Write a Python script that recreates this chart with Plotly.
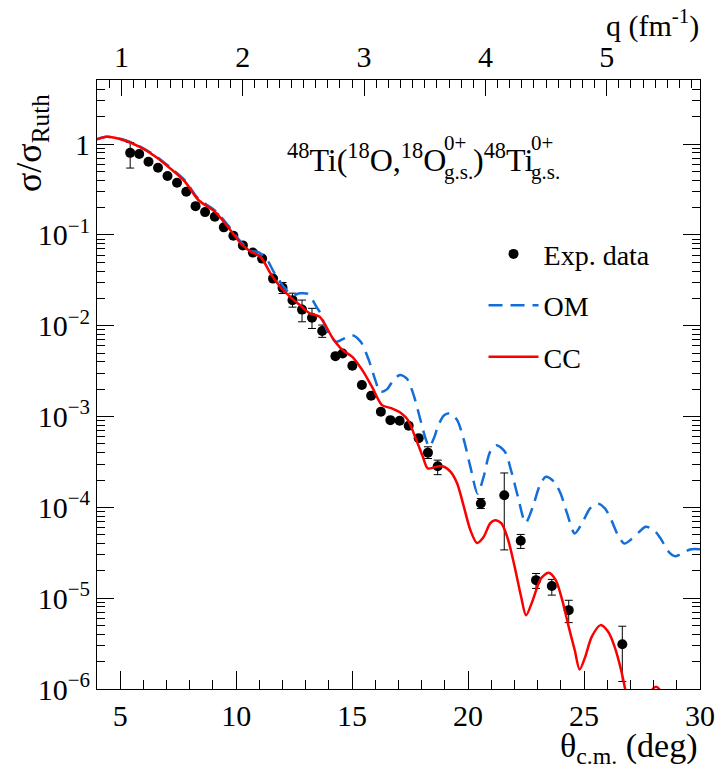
import plotly.graph_objects as go

# ---------------- data ----------------
theta_exp = [5.43, 5.82, 6.22, 6.63, 7.04, 7.45, 7.85, 8.25, 8.66, 9.08, 9.47, 9.88, 10.29, 10.72,
             11.12, 11.59, 12.00, 12.43, 12.84, 13.27, 13.71, 14.28, 14.59, 15.01, 15.42, 15.82,
             16.24, 16.65, 17.05, 17.44, 17.87, 18.27, 18.69, 20.55, 21.56, 22.27, 22.93, 23.61,
             24.34, 26.65]
sigma_exp = [0.80, 0.776, 0.638, 0.548, 0.444, 0.375, 0.298, 0.207, 0.178, 0.158, 0.121, 0.0977,
             0.0766, 0.0638, 0.0548, 0.0330, 0.0261, 0.0191, 0.01504, 0.01222, 0.00873, 0.00462,
             0.00495, 0.00362, 0.00222, 0.00169, 0.00113, 0.000912, 0.000897, 0.000790, 0.000578,
             0.000400, 0.000284, 1.10e-4, 1.36e-4, 4.28e-5, 1.58e-5, 1.36e-5, 7.38e-6, 3.11e-6]
err_up = [0.24, 0.023, 0.019, 0.016, 0.013, 0.011, 0.009, 0.006, 0.005, 0.005, 0.004, 0.003,
          0.0023, 0.0019, 0.0016, 0.001, 0.0038, 0.0037, 0.0041, 0.0033, 0.00143, 0.00014,
          0.00015, 0.00011, 0.00007, 0.00005, 0.000035, 0.000028, 0.000027, 0.000024, 0.000018,
          0.000064, 0.000047, 1.5e-5, 1.03e-4, 7.5e-6, 2.9e-6, 2.5e-6, 2.1e-6, 1.8e-6]
err_dn = [0.256, 0.023, 0.019, 0.016, 0.013, 0.011, 0.009, 0.006, 0.005, 0.005, 0.004, 0.003,
          0.0023, 0.0019, 0.0016, 0.001, 0.0035, 0.0031, 0.0040, 0.0029, 0.00129, 0.00014,
          0.00015, 0.00011, 0.00007, 0.00005, 0.000035, 0.000028, 0.000027, 0.000024, 0.000018,
          0.000055, 0.000055, 1.3e-5, 1.02e-4, 7.5e-6, 3.0e-6, 2.8e-6, 2.0e-6, 1.9e-6]

theta_cc = [4.0, 4.41, 5.12, 5.82, 6.53, 7.24, 7.80, 8.37, 9.08, 9.64, 10.20, 10.63, 11.05, 11.48,
            11.90, 12.33, 12.75, 13.17, 13.60, 14.17, 14.59, 15.01, 15.44, 15.86, 16.29, 16.71,
            17.13, 17.41, 17.77, 18.05, 18.26, 18.62, 18.90, 19.25, 19.53, 19.82, 20.10, 20.38,
            20.67, 20.95, 21.16, 21.44, 21.73, 22.01, 22.29, 22.50, 22.79, 23.14, 23.47, 23.78,
            24.06, 24.34, 24.60, 24.81, 25.05, 25.33, 25.71, 26.04, 26.32, 26.60, 26.77, 27.0,
            27.3, 27.6, 27.9, 28.1, 28.3, 28.6, 29.0, 29.5, 30.0]
sigma_cc = [1.127, 1.20, 1.107, 0.934, 0.725, 0.517, 0.384, 0.242, 0.180, 0.123, 0.0806, 0.0652,
            0.0574, 0.0377, 0.0268, 0.0208, 0.01686, 0.01365, 0.01253, 0.00724, 0.00538, 0.00454,
            0.00324, 0.00212, 0.001336, 0.001228, 0.001082, 0.000912, 0.000550, 0.000360,
            0.000268, 0.000279, 0.000284, 0.000246, 0.000183, 0.000101, 5.61e-5, 4.06e-5, 4.73e-5,
            6.65e-5, 7.23e-5, 6.65e-5, 4.36e-5, 2.21e-5, 1.03e-5, 6.50e-6, 9.51e-6, 1.65e-5,
            1.90e-5, 1.58e-5, 9.51e-6, 4.83e-6, 2.67e-6, 1.64e-6, 2.26e-6, 3.75e-6, 5.05e-6,
            4.26e-6, 2.91e-6, 1.61e-6, 1.01e-6, 5.5e-7, 3.3e-7, 4.5e-7, 9.5e-7, 1.06e-6, 9.5e-7,
            4.5e-7, 2.0e-7, 1.5e-7, 1.5e-7]

theta_om = [4.0, 4.41, 5.12, 5.82, 6.53, 7.24, 7.80, 8.37, 9.08, 9.64, 10.20, 10.63, 10.98, 11.34,
            11.62, 12.05, 12.40, 12.75, 13.11, 13.46, 13.60, 13.95, 14.31, 14.66, 15.01, 15.37,
            15.72, 16.00, 16.21, 16.50, 16.78, 17.06, 17.35, 17.63, 17.91, 18.19, 18.33, 18.55,
            18.69, 18.97, 19.25, 19.53, 19.82, 20.10, 20.41, 20.67, 20.95, 21.23, 21.59, 21.87,
            22.15, 22.48, 22.79, 23.07, 23.35, 23.71, 23.99, 24.27, 24.60, 24.91, 25.26, 25.59,
            25.90, 26.18, 26.46, 26.74, 27.03, 27.38, 27.66, 28.02, 28.30, 28.65, 28.94, 29.22,
            29.57, 30.0]
sigma_om = [1.13, 1.20, 1.12, 0.95, 0.74, 0.53, 0.395, 0.25, 0.186, 0.128, 0.084, 0.0668, 0.0641,
            0.0528, 0.0392, 0.0268, 0.0217, 0.0227, 0.0223, 0.01615, 0.01422, 0.00857, 0.00665,
            0.00724, 0.00787, 0.00665, 0.00418, 0.00252, 0.00187, 0.00199, 0.00252, 0.00286,
            0.00263, 0.00180, 0.000993, 0.000550, 0.000464, 0.000597, 0.000770, 0.001035,
            0.001081, 0.000912, 0.000550, 0.000279, 0.000142, 0.000217, 0.000409, 0.000484,
            0.000409, 0.000246, 0.000131, 6.75e-5, 1.01e-4, 1.68e-4, 2.17e-4, 1.91e-4, 1.42e-4,
            8.57e-5, 5.16e-5, 6.65e-5, 9.73e-5, 1.10e-4, 9.73e-5, 7.23e-5, 4.94e-5, 4.00e-5,
            4.43e-5, 5.37e-5, 6.10e-5, 5.61e-5, 4.55e-5, 3.24e-5, 2.90e-5, 3.10e-5, 3.44e-5,
            3.45e-5]

x_ticks = [5, 10, 15, 20, 25, 30]
q_ticks = [1, 2, 3, 4, 5]
y_ticks = [1e-6, 1e-5, 1e-4, 1e-3, 1e-2, 1e-1, 1]
y_ticktext = ["10<sup>\u22126</sup>", "10<sup>\u22125</sup>", "10<sup>\u22124</sup>",
              "10<sup>\u22123</sup>", "10<sup>\u22122</sup>", "10<sup>\u22121</sup>", "1"]

X_RANGE = [4, 30]
Q_RANGE = [0.797, 5.77]
Y_RANGE = [-6, 0.705]

FONT = "Liberation Serif"
BLUE = "rgb(20,110,215)"
RED = "rgb(250,0,0)"

minor_y = [k * 10.0 ** d for d in range(-6, 1) for k in range(2, 10) if k * 10.0 ** d < 5.07]

fig = go.Figure()

fig.add_trace(go.Scatter(
    x=theta_exp, y=sigma_exp, mode="markers", name="Exp. data",
    marker=dict(color="black", size=10, symbol="circle"),
    error_y=dict(type="data", symmetric=False, array=err_up, arrayminus=err_dn,
                 color="black", thickness=1, width=4),
    legendgroup="a", legendrank=1))
fig.add_trace(go.Scatter(
    x=theta_om, y=sigma_om, mode="lines", name="OM",
    line=dict(color=BLUE, width=2.5, dash="14px,8px", shape="spline", smoothing=0.8),
    legendgroup="b", legendrank=2))
fig.add_trace(go.Scatter(
    x=theta_cc, y=sigma_cc, mode="lines", name="CC",
    line=dict(color=RED, width=2.5, shape="spline", smoothing=0.8),
    legendgroup="c", legendrank=3))
# helpers to activate overlay axes
fig.add_trace(go.Scatter(x=[10], y=[1e-3], xaxis="x2", yaxis="y", mode="markers",
                         marker=dict(opacity=0), showlegend=False, hoverinfo="skip"))
fig.add_trace(go.Scatter(x=[10], y=[1e-3], xaxis="x", yaxis="y2", mode="markers",
                         marker=dict(opacity=0), showlegend=False, hoverinfo="skip"))

tickfont = dict(family=FONT, size=30, color="black")

fig.update_layout(
    width=727, height=771,
    margin=dict(l=97, r=17, t=80, b=82),
    plot_bgcolor="white", paper_bgcolor="white",
    font=dict(family=FONT, color="black"),
    showlegend=True,
    legend=dict(x=0.641, y=0.755, xanchor="left", yanchor="top",
                font=dict(family=FONT, size=28, color="black"),
                bgcolor="rgba(0,0,0,0)", itemwidth=50, tracegroupgap=12,
                traceorder="grouped"),
    xaxis=dict(range=X_RANGE, tickvals=x_ticks, ticks="inside", ticklen=18, tickwidth=1,
               tickcolor="black", showline=True, linecolor="black", linewidth=1,
               showgrid=False, zeroline=False, tickfont=tickfont,
               minor=dict(dtick=1, tick0=4, ticks="inside", ticklen=9, tickcolor="black",
                          showgrid=False)),
    xaxis2=dict(range=Q_RANGE, overlaying="x", side="top", anchor="y", tickvals=q_ticks,
                ticks="inside", ticklen=16, tickwidth=1, tickcolor="black", showline=True,
                linecolor="black", linewidth=1, showgrid=False, zeroline=False,
                tickfont=tickfont,
                minor=dict(dtick=0.1, tick0=0, ticks="inside", ticklen=8, tickcolor="black",
                           showgrid=False)),
    yaxis=dict(type="log", range=Y_RANGE, tickvals=y_ticks, ticktext=y_ticktext,
               ticks="inside", ticklen=17, tickwidth=1, tickcolor="black", showline=True,
               linecolor="black", linewidth=1, mirror="ticks", showgrid=False,
               zeroline=False, tickfont=tickfont),
    yaxis2=dict(type="log", range=Y_RANGE, overlaying="y", anchor="x", side="left",
                tickvals=minor_y, ticks="inside", ticklen=8, tickwidth=1, tickcolor="black",
                showticklabels=False, showline=False, mirror="ticks", showgrid=False,
                zeroline=False),
)

def px2paper(px, py):
    return (px - 97) / 613.0, (689 - py) / 609.0

annos = []
# axis titles
x, y = px2paper(710, 748)
annos.append(dict(x=x, y=y, text="\u03b8<sub>c.m.</sub> (deg)", xanchor="right",
                  yanchor="middle", font=dict(size=34)))
x, y = px2paper(711, 2)
annos.append(dict(x=x, y=y, text="q (fm<sup>-1</sup>)", xanchor="right", yanchor="top",
                  font=dict(size=30)))
x, y = px2paper(30, 143)
annos.append(dict(x=x, y=y, text="\u03c3/\u03c3<sub>Ruth</sub>", textangle=-90,
                  xanchor="center", yanchor="middle", font=dict(size=36)))
# reaction label, built from pieces to stack sub/superscripts
x, y = px2paper(288, 158)
annos.append(dict(x=x, y=y, text="<sup>48</sup>Ti(<sup>18</sup>O,<sup>18</sup>O",
                  xanchor="left", yanchor="middle", font=dict(size=32)))
x, y = px2paper(448, 143)
annos.append(dict(x=x, y=y, text="0+", xanchor="left", yanchor="middle", font=dict(size=21)))
x, y = px2paper(448, 172)
annos.append(dict(x=x, y=y, text="g.s.", xanchor="left", yanchor="middle", font=dict(size=21)))
x, y = px2paper(477, 158)
annos.append(dict(x=x, y=y, text=")<sup>48</sup>Ti", xanchor="left", yanchor="middle",
                  font=dict(size=32)))
x, y = px2paper(536, 143)
annos.append(dict(x=x, y=y, text="0+", xanchor="left", yanchor="middle", font=dict(size=21)))
x, y = px2paper(536, 172)
annos.append(dict(x=x, y=y, text="g.s.", xanchor="left", yanchor="middle", font=dict(size=21)))

for a in annos:
    a.update(xref="paper", yref="paper", showarrow=False)
    a["font"].update(family=FONT, color="black")
fig.update_layout(annotations=annos)

fig.write_html("out.html")
